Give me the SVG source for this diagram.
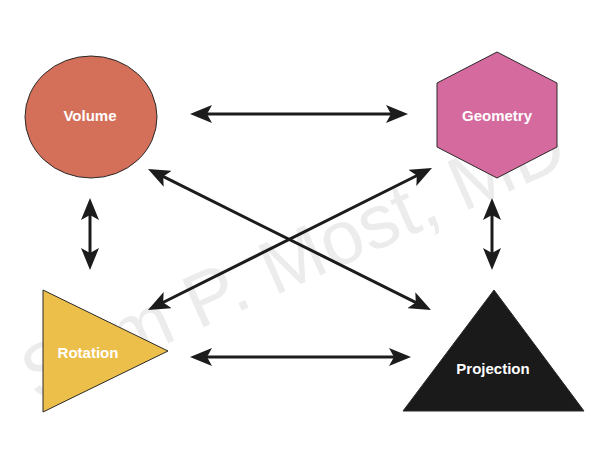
<svg xmlns="http://www.w3.org/2000/svg" width="600" height="454" viewBox="0 0 600 454">
  <defs>
    <style>
      .shape { stroke: #2a2a2a; stroke-width: 1; }
      .label { font-family: "Liberation Sans", Arial, Helvetica, sans-serif; font-weight: bold; font-size: 15px; fill: #ffffff; text-anchor: middle; dominant-baseline: central; }
      .conn { stroke: #1c1c1c; stroke-width: 3; fill: none; marker-start: url(#head); marker-end: url(#head); }
      .wm { font-family: "Liberation Sans", Arial, Helvetica, sans-serif; font-size: 76px; fill: #ececec; }
    </style>
    <marker id="head" viewBox="0 0 22 18" refX="12" refY="9" markerWidth="22" markerHeight="18" markerUnits="userSpaceOnUse" orient="auto-start-reverse">
      <path d="M0,0 L22,9 L0,18 L5,9 Z" fill="#1c1c1c"/>
    </marker>
  </defs>
  <rect width="600" height="454" fill="#ffffff"/>
  <text class="wm" x="36" y="402" transform="rotate(-24 36 402)">Sam P. Most, MD</text>

  <g id="connectors">
    <line class="conn" x1="200" y1="114" x2="398" y2="114"/>
    <line class="conn" x1="200" y1="357" x2="401" y2="357"/>
    <line class="conn" x1="90" y1="208" x2="90" y2="260"/>
    <line class="conn" x1="492" y1="208" x2="492" y2="260"/>
    <line class="conn" x1="156.95" y1="173.46" x2="422.05" y2="305.54"/>
    <line class="conn" x1="423.06" y1="172.47" x2="156.94" y2="305.53"/>
  </g>

  <g id="volume">
    <ellipse class="shape" cx="91" cy="117" rx="66" ry="61" fill="#d4705a"/>
    <text class="label" x="90" y="115">Volume</text>
  </g>
  <g id="geometry">
    <polygon class="shape" points="497,52 557,83 557,147 497,178 437,147 437,83" fill="#d46a9e"/>
    <text class="label" x="497" y="115">Geometry</text>
  </g>
  <g id="rotation">
    <polygon class="shape" points="43,290 168,351 43,412" fill="#ecbe4a"/>
    <text class="label" x="88" y="352">Rotation</text>
  </g>
  <g id="projection">
    <polygon class="shape" points="494,290 584,411 403,411" fill="#1a1a1a"/>
    <text class="label" x="493" y="368">Projection</text>
  </g>
</svg>
